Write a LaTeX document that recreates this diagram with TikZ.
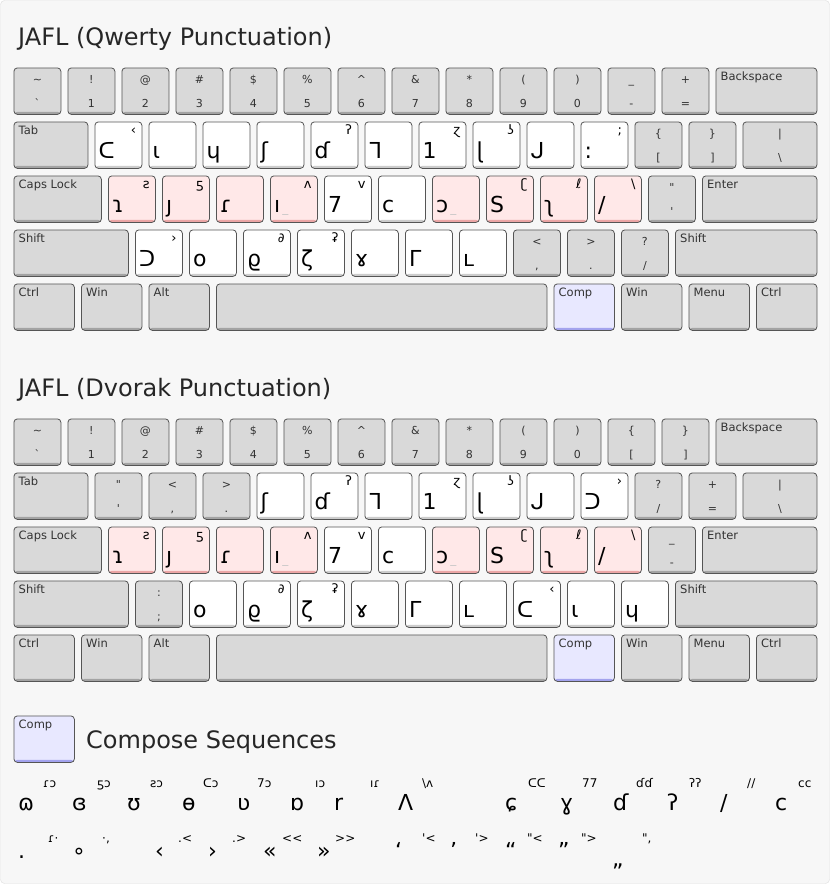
\documentclass[tikz,border=0pt]{standalone}
\usepackage{fontspec}
\setmainfont{DejaVu Sans}
\newfontfamily\jafl{DejaVu Sans}
\usepackage{tikz}
\definecolor{pagebg}{HTML}{F7F7F7}
\definecolor{pageline}{HTML}{DDDDDD}
\definecolor{keyline}{HTML}{555555}
\definecolor{keytext}{HTML}{333333}
\definecolor{keygray}{HTML}{D9D9D9}
\definecolor{keygrayband}{HTML}{A3A3A3}
\definecolor{keywhiteband}{HTML}{CCCCCC}
\definecolor{keypink}{HTML}{FFE8E8}
\definecolor{keypinkband}{HTML}{EBA5A5}
\definecolor{keylav}{HTML}{E8E8FF}
\definecolor{keylavband}{HTML}{A3A3EE}

% gray underscore shown after a dead glyph
\newcommand{\deadmark}{\hspace{2pt}{\fontsize{12}{12}\selectfont\color{gray!45}\_}}

% key with shifted and base symbol
\newcommand{\symkey}[6]{%
  \node[graykey, minimum width=#4] (#1) at (#2,#3) {};
  \node[keysym] (#1-up) at ([yshift=-16pt]#1.north) {#5};
  \node[keysym] (#1-dn) at ([yshift=-40pt]#1.north) {#6};}
% key with a name in the corner
\newcommand{\modkey}[6]{%
  \node[#5, minimum width=#4] (#1) at (#2,#3) {};
  \node[modlabel] (#1-t) at ([xshift=5pt,yshift=-13pt]#1.north west) {#6};}
% JAFL letter key
\newcommand{\jaflkey}[6]{%
  \node[#4, minimum width=47pt] (#1) at (#2,#3) {};
  \node[jaflmain] (#1-m) at ([xshift=4pt,yshift=10pt]#1.south west) {#5};
  \node[jaflshift] (#1-s) at ([xshift=-6pt,yshift=-13pt]#1.north east) {#6};}
% one compose sequence
\newcommand{\seq}[7]{%
  \node[seqmain] (#1) at (#2,#3) {#4};
  \node[seqkeys] (#1-k) at (#5,#6) {#7};}

% rows used by both layouts
\newcommand{\numrow}[6]{%
  \foreach \up/\dn [count=\i from 0] in {\textasciitilde/\textasciigrave, !/1, @/2, \#/3, \$/4, \%/5, \textasciicircum/6, \&/7, */8, {(}/9, {)}/0}
    {\symkey{#1n\i}{13.5+54*\i}{#2}{47pt}{\up}{\dn}}
  \symkey{#1n11}{607.5}{#2}{47pt}{#3}{#4}
  \symkey{#1n12}{661.5}{#2}{47pt}{#5}{#6}
  \modkey{#1bksp}{715.5}{#2}{101pt}{graykey}{Backspace}}
\newcommand{\homerow}[4]{%
  \modkey{#1caps}{13.5}{#2}{87.5pt}{graykey}{Caps Lock}
  \jaflkey{#1a}{108}{#2}{homekey}{ɿ}{ƨ}
  \jaflkey{#1s}{162}{#2}{homekey}{ȷ}{ƽ}
  \jaflkey{#1d}{216}{#2}{homekey}{ɾ}{}
  \jaflkey{#1f}{270}{#2}{homekey}{ı\deadmark}{ʌ}
  \jaflkey{#1g}{324}{#2}{glyphkey}{7}{v}
  \jaflkey{#1h}{378}{#2}{glyphkey}{c}{}
  \jaflkey{#1j}{432}{#2}{homekey}{ɔ\deadmark}{}
  \jaflkey{#1k}{486}{#2}{homekey}{S}{ʗ}
  \jaflkey{#1l}{540}{#2}{homekey}{ʅ}{ℓ}
  \jaflkey{#1semi}{594}{#2}{homekey}{/}{\textbackslash}
  \symkey{#1quote}{648}{#2}{47pt}{#3}{#4}
  \modkey{#1enter}{702}{#2}{114.5pt}{graykey}{Enter}}
\newcommand{\bottomrow}[2]{%
  \modkey{#1lctrl}{13.5}{#2}{60.5pt}{graykey}{Ctrl}
  \modkey{#1lwin}{81}{#2}{60.5pt}{graykey}{Win}
  \modkey{#1alt}{148.5}{#2}{60.5pt}{graykey}{Alt}
  \modkey{#1space}{216}{#2}{330.5pt}{graykey}{}
  \modkey{#1comp}{553.5}{#2}{60.5pt}{compkey}{Comp}
  \modkey{#1rwin}{621}{#2}{60.5pt}{graykey}{Win}
  \modkey{#1menu}{688.5}{#2}{60.5pt}{graykey}{Menu}
  \modkey{#1rctrl}{756}{#2}{60.5pt}{graykey}{Ctrl}}

\begin{document}
\begin{tikzpicture}[x=1pt, y=-1pt,
    key/.style={draw=keyline, line width=0.8pt, rounded corners=3.5pt,
      minimum height=46.5pt, inner sep=0pt, anchor=north west},
    keyband/.style={path picture={\fill[#1] (path picture bounding box.south west)
      rectangle ([yshift=2.6pt]path picture bounding box.south east);}},
    graykey/.style={key, fill=keygray, keyband=keygrayband},
    glyphkey/.style={key, fill=white, keyband=keywhiteband},
    homekey/.style={key, fill=keypink, keyband=keypinkband},
    compkey/.style={key, fill=keylav, keyband=keylavband},
    keysym/.style={anchor=base, inner sep=0pt, text=keytext, font=\fontsize{11}{12}\selectfont},
    modlabel/.style={anchor=base west, inner sep=0pt, text=keytext, font=\fontsize{11.5}{13}\selectfont},
    jaflmain/.style={anchor=base west, inner sep=0pt, font=\jafl\fontsize{22}{22}\selectfont},
    jaflshift/.style={anchor=base east, inner sep=0pt, font=\jafl\fontsize{13}{13}\selectfont},
    heading/.style={anchor=base west, inner sep=0pt, text=black!85},
    seqmain/.style={anchor=base west, inner sep=0pt, font=\jafl\fontsize{22}{22}\selectfont},
    seqkeys/.style={anchor=base west, inner sep=0pt, font=\jafl\fontsize{12}{12}\selectfont}]

  % page
  \useasboundingbox (0,0) rectangle (830,884);
  \fill[pagebg, draw=pageline, rounded corners=4pt] (0.5,0.5) rectangle (829.5,883.5);

  % ---- Qwerty punctuation ----
  \node[heading, font=\fontsize{24}{26}\selectfont] (qtitle) at (18,45.5) {JAFL (Qwerty Punctuation)};

  \numrow{q}{67.5}{\_}{-}{+}{=}

  \modkey{qtab}{13.5}{121.5}{74pt}{graykey}{Tab}
  \jaflkey{qq}{94.5}{121.5}{glyphkey}{ᑕ}{‹}
  \jaflkey{qw}{148.5}{121.5}{glyphkey}{ɩ}{}
  \jaflkey{qe}{202.5}{121.5}{glyphkey}{ɥ}{}
  \jaflkey{qr}{256.5}{121.5}{glyphkey}{ʃ}{}
  \jaflkey{qt}{310.5}{121.5}{glyphkey}{ɗ}{ʔ}
  \jaflkey{qy}{364.5}{121.5}{glyphkey}{ᒣ}{}
  \jaflkey{qu}{418.5}{121.5}{glyphkey}{1}{ɀ}
  \jaflkey{qi}{472.5}{121.5}{glyphkey}{ɭ}{ʖ}
  \jaflkey{qo}{526.5}{121.5}{glyphkey}{ᒍ}{}
  \jaflkey{qp}{580.5}{121.5}{glyphkey}{:}{;}
  \symkey{qlbr}{634.5}{121.5}{47pt}{\{}{[}
  \symkey{qrbr}{688.5}{121.5}{47pt}{\}}{]}
  \symkey{qbsl}{742.5}{121.5}{74pt}{\textbar}{\textbackslash}

  \homerow{q}{175.5}{\textquotedbl}{\textquotesingle}

  \modkey{qlshift}{13.5}{229.5}{114.5pt}{graykey}{Shift}
  \jaflkey{qz}{135}{229.5}{glyphkey}{ᑐ}{›}
  \jaflkey{qx}{189}{229.5}{glyphkey}{o}{}
  \jaflkey{qc}{243}{229.5}{glyphkey}{ϱ}{∂}
  \jaflkey{qv}{297}{229.5}{glyphkey}{ζ}{ʡ}
  \jaflkey{qb}{351}{229.5}{glyphkey}{ɤ}{}
  \jaflkey{qnn}{405}{229.5}{glyphkey}{ᒥ}{}
  \jaflkey{qm}{459}{229.5}{glyphkey}{ʟ}{}
  \symkey{qcomma}{513}{229.5}{47pt}{<}{,}
  \symkey{qdot}{567}{229.5}{47pt}{>}{.}
  \symkey{qslash}{621}{229.5}{47pt}{?}{/}
  \modkey{qrshift}{675}{229.5}{141.5pt}{graykey}{Shift}

  \bottomrow{q}{283.5}

  % ---- Dvorak punctuation ----
  \node[heading, font=\fontsize{24}{26}\selectfont] (dtitle) at (18,396.5) {JAFL (Dvorak Punctuation)};

  \numrow{d}{418.5}{\{}{[}{\}}{]}

  \modkey{dtab}{13.5}{472.5}{74pt}{graykey}{Tab}
  \symkey{dquote}{94.5}{472.5}{47pt}{\textquotedbl}{\textquotesingle}
  \symkey{dcomma}{148.5}{472.5}{47pt}{<}{,}
  \symkey{ddot}{202.5}{472.5}{47pt}{>}{.}
  \jaflkey{dp}{256.5}{472.5}{glyphkey}{ʃ}{}
  \jaflkey{dy}{310.5}{472.5}{glyphkey}{ɗ}{ʔ}
  \jaflkey{df}{364.5}{472.5}{glyphkey}{ᒣ}{}
  \jaflkey{dg}{418.5}{472.5}{glyphkey}{1}{ɀ}
  \jaflkey{dc}{472.5}{472.5}{glyphkey}{ɭ}{ʖ}
  \jaflkey{dr}{526.5}{472.5}{glyphkey}{ᒍ}{}
  \jaflkey{dl}{580.5}{472.5}{glyphkey}{ᑐ}{›}
  \symkey{dslash}{634.5}{472.5}{47pt}{?}{/}
  \symkey{dequal}{688.5}{472.5}{47pt}{+}{=}
  \symkey{dbsl}{742.5}{472.5}{74pt}{\textbar}{\textbackslash}

  \homerow{d}{526.5}{\_}{-}

  \modkey{dlshift}{13.5}{580.5}{114.5pt}{graykey}{Shift}
  \symkey{dsemi}{135}{580.5}{47pt}{:}{;}
  \jaflkey{dq}{189}{580.5}{glyphkey}{o}{}
  \jaflkey{dj}{243}{580.5}{glyphkey}{ϱ}{∂}
  \jaflkey{dk}{297}{580.5}{glyphkey}{ζ}{ʡ}
  \jaflkey{dx}{351}{580.5}{glyphkey}{ɤ}{}
  \jaflkey{db}{405}{580.5}{glyphkey}{ᒥ}{}
  \jaflkey{dm}{459}{580.5}{glyphkey}{ʟ}{}
  \jaflkey{dw}{513}{580.5}{glyphkey}{ᑕ}{‹}
  \jaflkey{dv}{567}{580.5}{glyphkey}{ɩ}{}
  \jaflkey{dz}{621}{580.5}{glyphkey}{ɥ}{}
  \modkey{drshift}{675}{580.5}{141.5pt}{graykey}{Shift}

  \bottomrow{d}{634.5}

  % ---- compose sequences ----
  \modkey{ckey}{13.5}{715.5}{60.5pt}{compkey}{Comp}
  \node[heading, font=\fontsize{24}{26}\selectfont] (ctitle) at (86,748.5) {Compose Sequences};

  \seq{c1}{18}{810}{ɷ}{43}{787}{ɾɔ}
  \seq{c2}{72}{810}{ɞ}{97}{787}{ƽɔ}
  \seq{c3}{127}{810}{ʊ}{150}{787}{ƨɔ}
  \seq{c4}{182}{810}{ɵ}{203}{787}{ᑕɔ}
  \seq{c5}{237}{810}{ʋ}{257}{787}{7ɔ}
  \seq{c6}{290}{810}{ɒ}{315}{787}{ıɔ}
  \seq{c7}{334}{810}{r}{370}{787}{ıɾ}
  \seq{c8}{398}{810}{Ʌ}{422}{787}{\textbackslash ʌ}
  \seq{c9}{505}{810}{ɕ}{528}{787}{ᑕᑕ}
  \seq{c10}{560}{810}{ɣ}{582}{787}{77}
  \seq{c11}{613}{810}{ɗ}{636}{787}{ɗɗ}
  \seq{c12}{667}{810}{ʔ}{689}{787}{ʔʔ}
  \seq{c13}{720}{810}{/}{747}{787}{//}
  \seq{c14}{775}{810}{c}{798}{787}{cc}

  \seq{p1}{18}{858}{.}{48}{842}{ɾ·}
  \seq{p2}{72}{858}{∘}{102}{842}{·,}
  \seq{p3}{155}{858}{‹}{178}{842}{.<}
  \seq{p4}{208}{858}{›}{232}{842}{.>}
  \seq{p5}{263}{858}{«}{282}{842}{<<}
  \seq{p6}{317}{858}{»}{335}{842}{>>}
  \seq{p7}{395}{858}{‘}{422}{842}{\textquotesingle<}
  \seq{p8}{450}{858}{’}{475}{842}{\textquotesingle>}
  \seq{p9}{505}{858}{“}{527}{842}{\textquotedbl<}
  \seq{p10}{558}{858}{”}{581}{842}{\textquotedbl>}
  \seq{p11}{612}{866}{„}{642}{842}{\textquotedbl,}
\end{tikzpicture}
\end{document}
